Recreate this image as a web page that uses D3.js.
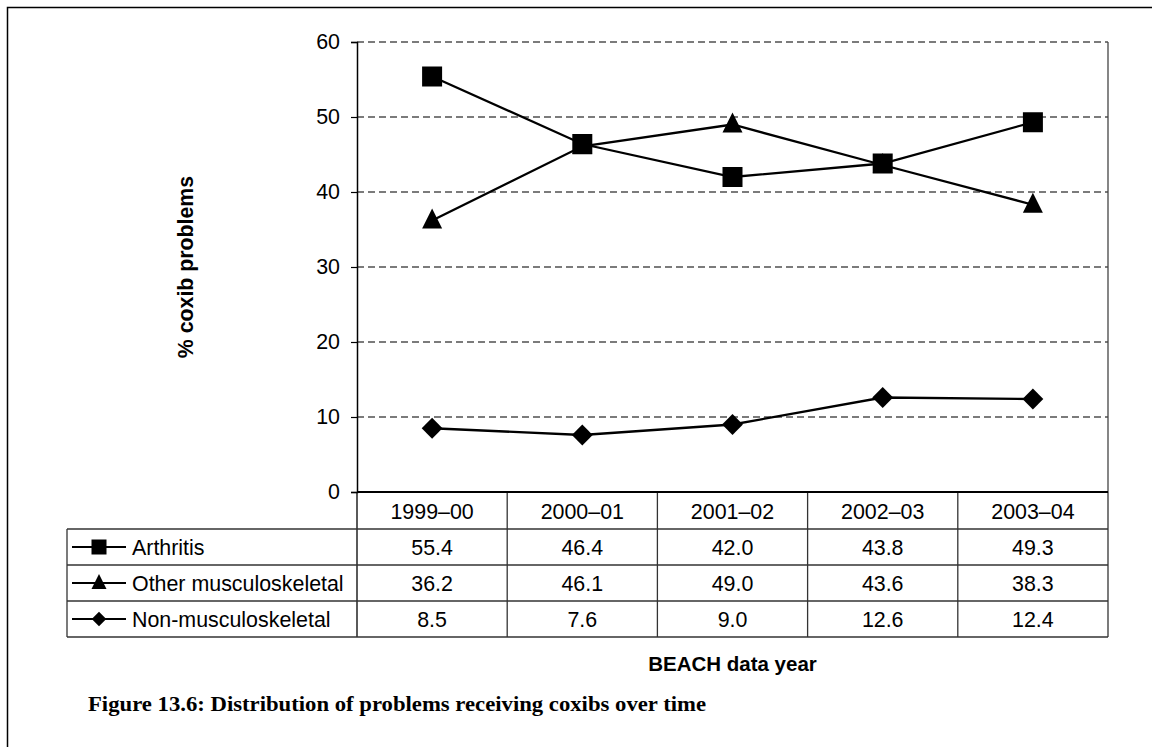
<!DOCTYPE html>
<meta charset="utf-8">
<style>
  body { margin: 0; background: #fff; }
  text { font-family: "Liberation Sans", Arial, sans-serif; fill: #000; }
</style>
<body>
<script src="https://cdn.jsdelivr.net/npm/d3@7"></script>
<script>

// data
var years = ["1999\u201300", "2000\u201301", "2001\u201302", "2002\u201303", "2003\u201304"];
var arthritis = [55.4, 46.4, 42.0, 43.8, 49.3];
var otherMusc = [36.2, 46.1, 49.0, 43.6, 38.3];
var nonMusc = [8.5, 7.6, 9.0, 12.6, 12.4];
var seriesNames = ["Arthritis", "Other musculoskeletal", "Non-musculoskeletal"];
var yTicks = [0, 10, 20, 30, 40, 50, 60];

var series = [
  {name: seriesNames[0], values: arthritis, shape: "square"},
  {name: seriesNames[1], values: otherMusc, shape: "triangle"},
  {name: seriesNames[2], values: nonMusc, shape: "diamond"}
];

var W = 1152, H = 747;
var plot = {left: 357, right: 1108, top: 42, bottom: 492};
var tableLeft = 67, rowH = 36, headH = 37;
var fs = "21.4px";

var svg = d3.select("body").append("svg")
    .attr("width", W)
    .attr("height", H);

// outer frame (only top and left visible)
svg.append("rect")
    .attr("x", 7.5).attr("y", 7.5)
    .attr("width", W + 20).attr("height", H + 20)
    .attr("fill", "none").attr("stroke", "#000").attr("stroke-width", 1.5);

var x = d3.scaleBand()
    .domain(years)
    .range([plot.left, plot.right]);

var y = d3.scaleLinear()
    .domain([0, 60])
    .range([plot.bottom, plot.top]);

// gridlines
svg.append("g").selectAll("line")
    .data(yTicks.filter(function(d) { return d > 0; }))
  .enter().append("line")
    .attr("x1", plot.left).attr("x2", plot.right)
    .attr("y1", function(d) { return y(d); })
    .attr("y2", function(d) { return y(d); })
    .attr("stroke", "#505050")
    .attr("stroke-dasharray", "7,4")
    .attr("stroke-width", 1.4);

// right border of plot
svg.append("line")
    .attr("x1", plot.right).attr("x2", plot.right)
    .attr("y1", plot.top).attr("y2", plot.bottom)
    .attr("stroke", "#444").attr("stroke-width", 1.3);

// y axis
var gY = svg.append("g")
    .attr("transform", "translate(" + plot.left + ",0)")
    .call(d3.axisLeft(y).tickValues(yTicks).tickSize(6).tickPadding(11).tickFormat(d3.format("d")));
gY.select(".domain").attr("stroke", "#000").attr("stroke-width", 1.5);
gY.selectAll(".tick line").attr("stroke", "#000").attr("stroke-width", 1.2);
gY.selectAll(".tick text")
    .style("font-family", "'Liberation Sans', Arial, sans-serif")
    .style("font-size", fs)
    .attr("fill", "#000");

svg.append("text")
    .attr("transform", "translate(193," + ((plot.top + plot.bottom) / 2) + ") rotate(-90)")
    .attr("text-anchor", "middle")
    .style("font-size", "21.3px")
    .style("font-weight", "bold")
    .text("% coxib problems");

// table
var tableBottom = plot.bottom + headH + rowH * series.length;
var tg = svg.append("g").attr("stroke", "#333").attr("stroke-width", 1.3);

tg.selectAll("line.col")
    .data(years.slice(1))
  .enter().append("line")
    .attr("x1", function(d) { return x(d); })
    .attr("x2", function(d) { return x(d); })
    .attr("y1", plot.bottom).attr("y2", tableBottom);
tg.append("line")
    .attr("x1", plot.right).attr("x2", plot.right)
    .attr("y1", plot.bottom).attr("y2", tableBottom);
tg.append("line")
    .attr("x1", plot.left).attr("x2", plot.left)
    .attr("y1", plot.bottom).attr("y2", tableBottom)
    .attr("stroke", "#000");
tg.append("line")
    .attr("x1", tableLeft).attr("x2", tableLeft)
    .attr("y1", plot.bottom + headH).attr("y2", tableBottom);
tg.selectAll("line.row")
    .data(d3.range(series.length + 1))
  .enter().append("line")
    .attr("x1", tableLeft).attr("x2", plot.right)
    .attr("y1", function(i) { return plot.bottom + headH + i * rowH; })
    .attr("y2", function(i) { return plot.bottom + headH + i * rowH; });

// x axis line
svg.append("line")
    .attr("x1", plot.left).attr("x2", plot.right)
    .attr("y1", plot.bottom).attr("y2", plot.bottom)
    .attr("stroke", "#000").attr("stroke-width", 2.2);

// header labels
svg.append("g").selectAll("text")
    .data(years)
  .enter().append("text")
    .attr("x", function(d) { return x(d) + x.bandwidth() / 2; })
    .attr("y", plot.bottom + headH / 2 + 8)
    .attr("text-anchor", "middle")
    .style("font-size", fs)
    .text(function(d) { return d; });

// marker shapes
function marker(g, shape, size) {
  if (shape === "square") {
    g.append("rect")
        .attr("x", -size / 2).attr("y", -size / 2)
        .attr("width", size).attr("height", size)
        .attr("fill", "#000");
  } else if (shape === "triangle") {
    var h = size;
    g.append("path")
        .attr("d", "M0," + (-h * 0.6) + "L" + (size / 2) + "," + (h * 0.4) + "L" + (-size / 2) + "," + (h * 0.4) + "Z")
        .attr("fill", "#000");
  } else {
    var r = size * 0.52;
    g.append("path")
        .attr("d", "M0," + (-r) + "L" + r + ",0L0," + r + "L" + (-r) + ",0Z")
        .attr("fill", "#000");
  }
}

var line = d3.line()
    .x(function(d, i) { return x(years[i]) + x.bandwidth() / 2; })
    .y(function(d) { return y(d); });

series.forEach(function(s, si) {
  svg.append("path")
      .datum(s.values)
      .attr("d", line)
      .attr("fill", "none")
      .attr("stroke", "#000")
      .attr("stroke-width", 2.3);

  s.values.forEach(function(v, i) {
    var g = svg.append("g")
        .attr("transform", "translate(" + (x(years[i]) + x.bandwidth() / 2) + "," + y(v) + ")");
    marker(g, s.shape, 20);
  });

  var rowMid = plot.bottom + headH + si * rowH + rowH / 2;

  // legend key in table
  svg.append("line")
      .attr("x1", 72).attr("x2", 126)
      .attr("y1", rowMid).attr("y2", rowMid)
      .attr("stroke", "#000").attr("stroke-width", 2);
  var lg = svg.append("g").attr("transform", "translate(99," + rowMid + ")");
  marker(lg, s.shape, s.shape === "diamond" ? 14 : 15);

  svg.append("text")
      .attr("x", 132)
      .attr("y", rowMid + 8)
      .style("font-size", fs)
      .text(s.name);

  svg.append("g").selectAll("text")
      .data(s.values)
    .enter().append("text")
      .attr("x", function(d, i) { return x(years[i]) + x.bandwidth() / 2; })
      .attr("y", rowMid + 8)
      .attr("text-anchor", "middle")
      .style("font-size", fs)
      .text(function(d) { return d.toFixed(1); });
});

// x axis title
svg.append("text")
    .attr("x", (plot.left + plot.right) / 2)
    .attr("y", 671)
    .attr("text-anchor", "middle")
    .style("font-size", "20.5px")
    .style("font-weight", "bold")
    .text("BEACH data year");

// caption
svg.append("text")
    .attr("x", 88)
    .attr("y", 711)
    .attr("textLength", 618)
    .attr("lengthAdjust", "spacingAndGlyphs")
    .style("font-family", "'Liberation Serif', 'DejaVu Serif', serif")
    .style("font-size", "22px")
    .style("font-weight", "bold")
    .text("Figure 13.6: Distribution of problems receiving coxibs over time");

</script>
</body>
